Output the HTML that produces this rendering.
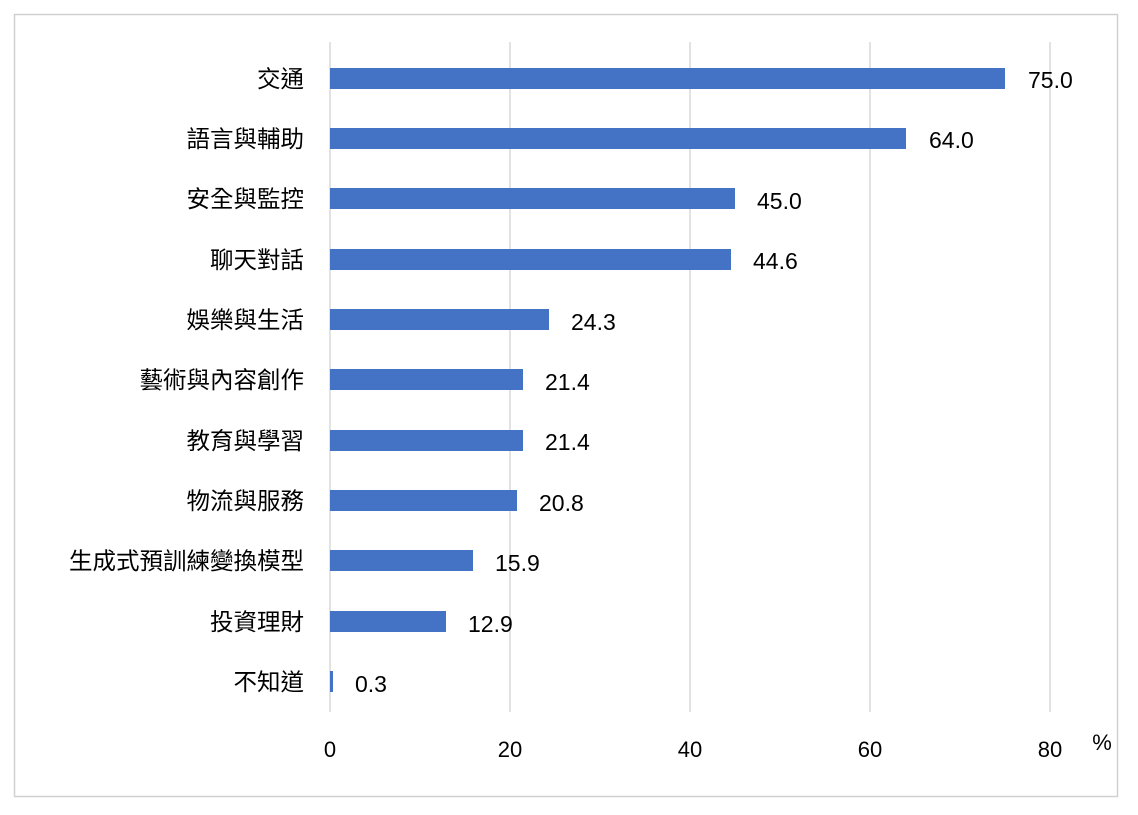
<!DOCTYPE html>
<html><head><meta charset="utf-8"><style>
body{margin:0;background:#fff;}
svg text{font-family:"Liberation Sans","Noto Sans CJK TC",sans-serif;fill:#000;}
</style></head><body>
<svg width="1138" height="810" xmlns="http://www.w3.org/2000/svg">
<rect x="0" y="0" width="1138" height="810" fill="#fff"/>
<rect x="14.5" y="14.5" width="1103" height="782" fill="none" stroke="#d0d0d0" stroke-width="1.5"/>
<g stroke="#d9d9d9" stroke-width="1.5">
<line x1="330" y1="42" x2="330" y2="712"/>
<line x1="510" y1="42" x2="510" y2="712"/>
<line x1="690" y1="42" x2="690" y2="712"/>
<line x1="870" y1="42" x2="870" y2="712"/>
<line x1="1050" y1="42" x2="1050" y2="712"/>
</g>
<g font-size="22" text-anchor="middle">
<text x="330" y="757">0</text><text x="510" y="757">20</text><text x="690" y="757">40</text><text x="870" y="757">60</text><text x="1050" y="757">80</text>
<text x="1102" y="750">%</text>
</g>
<g fill="#4472c4">
<rect x="330" y="68" width="675" height="21"/>
<rect x="330" y="128" width="576" height="21"/>
<rect x="330" y="188" width="405" height="21"/>
<rect x="330" y="249" width="401" height="21"/>
<rect x="330" y="309" width="219" height="21"/>
<rect x="330" y="369" width="193" height="21"/>
<rect x="330" y="430" width="193" height="21"/>
<rect x="330" y="490" width="187" height="21"/>
<rect x="330" y="550" width="143" height="21"/>
<rect x="330" y="611" width="116" height="21"/>
<rect x="330" y="671" width="3" height="21"/>
</g>
<g font-size="23">
<text x="1028" y="88">75.0</text>
<text x="929" y="148">64.0</text>
<text x="757" y="209">45.0</text>
<text x="753" y="269">44.6</text>
<text x="571" y="330">24.3</text>
<text x="545" y="390">21.4</text>
<text x="545" y="450">21.4</text>
<text x="539" y="511">20.8</text>
<text x="495" y="571">15.9</text>
<text x="468" y="632">12.9</text>
<text x="355" y="692">0.3</text>
</g>
<g font-size="23.5" text-anchor="end">
<text x="304" y="87">交通</text>
<text x="304" y="147">語言與輔助</text>
<text x="304" y="207">安全與監控</text>
<text x="304" y="268">聊天對話</text>
<text x="304" y="328">娛樂與生活</text>
<text x="304" y="388">藝術與內容創作</text>
<text x="304" y="449">教育與學習</text>
<text x="304" y="509">物流與服務</text>
<text x="304" y="569">生成式預訓練變換模型</text>
<text x="304" y="630">投資理財</text>
<text x="304" y="690">不知道</text>
</g>
</svg>
</body></html>
